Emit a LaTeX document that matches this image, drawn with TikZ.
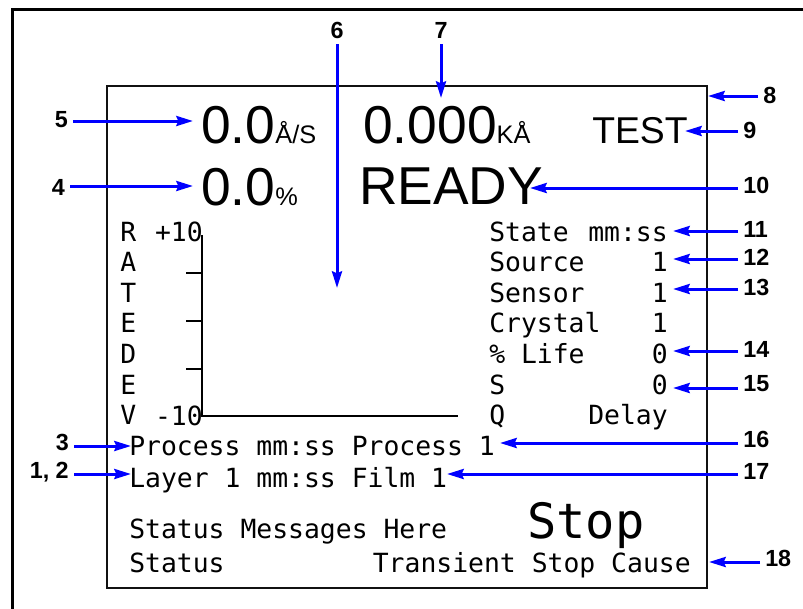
\documentclass[tikz,border=0pt]{standalone}
\usepackage{fontspec}
\setmainfont{Liberation Sans}
\setmonofont{DejaVu Sans Mono}
\usetikzlibrary{arrows.meta}
\definecolor{calloutblue}{RGB}{0,0,255}
\definecolor{screenstroke}{HTML}{111111}
\tikzset{
  callout/.style={
    -{Stealth[length=12.5pt,width=7.5pt,inset=1.5pt]}, draw=calloutblue,
    line width=2.25pt
  },
  calloutnum/.style={
    inner sep=3.75pt, font=\bfseries\fontsize{17.5}{19}\selectfont
  },
  readout/.style={
    inner sep=0pt, anchor=base west, font=\fontsize{40}{42}\selectfont
  },
  lcd/.style={
    inner sep=0pt, anchor=base west, font=\ttfamily\fontsize{19.8}{22}\selectfont
  },
  lcdright/.style={lcd, anchor=base east},
  axisline/.style={draw=black, line width=1pt}
}

\begin{document}
\begin{tikzpicture}[x=0.75pt,y=-0.75pt]
  \useasboundingbox (0,0) rectangle (803,608);
  \draw[line width=2.25pt] (12,610) -- (12,9.5) -- (805,9.5);
  \draw[screenstroke,line width=1.5pt] (107,86) rectangle (707,588);

  % Top readouts.
  \node[readout] (rate) at (201,143) {0.0{\fontsize{19}{20}\selectfont Å/S}};
  \node[readout] (thick) at (363,143) {0.000{\fontsize{19}{20}\selectfont KÅ}};
  \node[readout,font=\fontsize{28}{30}\selectfont] (test) at (592,143) {TEST};
  \node[readout] (power) at (201,205) {0.0{\fontsize{19}{20}\selectfont \%}};
  \node[readout] (ready) at (359,204) {READY};

  % Rate deviation graph.
  \draw[axisline] (202,235) -- (202,416) -- (458,416);
  \foreach \ty in {273,321,369}
    \draw[axisline] (186,\ty) -- (202,\ty);
  \foreach \ch [count=\i] in {R,A,T,E,D,E,V}
    \node[lcd] (dev\i) at (120,{241+30.6*(\i-1)}) {\ch};
  \node[lcdright] (devtop) at (203,241) {+10};
  \node[lcdright] (devbot) at (203,425) {-10};

  % Source and sensor column.
  \foreach \lt/\rt [count=\i] in {State/mm:ss,Source/1,Sensor/1,Crystal/1,
      {\% Life}/0,S/0,Q/Delay} {
    \node[lcd] (par\i) at (489,{241+30.6*(\i-1)}) {\lt};
    \node[lcdright] (val\i) at (668,{241+30.6*(\i-1)}) {\rt};
  }

  % Process lines and status area.
  \node[lcd] (proc) at (129,455) {Process mm:ss Process 1};
  \node[lcd] (layer) at (129,487) {Layer 1 mm:ss Film 1};
  \node[lcd] (msg) at (129,538) {Status Messages Here};
  \node[lcd,font=\ttfamily\fontsize{36.5}{38}\selectfont] (stop) at (527,538) {Stop};
  \node[lcd] (stat) at (129,572) {Status};
  \node[lcdright] (cause) at (691,572) {Transient Stop Cause};

  % Callout numbers.
  \node[calloutnum,anchor=east] (n5) at (73,120) {5};
  \node[calloutnum,anchor=east] (n4) at (70,187) {4};
  \node[calloutnum,anchor=east] (n3) at (74,442) {3};
  \node[calloutnum,anchor=east] (n12a) at (74,472) {1, 2};
  \node[calloutnum,anchor=south] (n6) at (337,44) {6};
  \node[calloutnum,anchor=south] (n7) at (441,44) {7};
  \node[calloutnum,anchor=west] (n8) at (758,95) {8};
  \node[calloutnum,anchor=west] (n9) at (738,130) {9};
  \node[calloutnum,anchor=west] (n10) at (738,185) {10};
  \node[calloutnum,anchor=west] (n11) at (738,229) {11};
  \node[calloutnum,anchor=west] (n12) at (738,257) {12};
  \node[calloutnum,anchor=west] (n13) at (738,287) {13};
  \node[calloutnum,anchor=west] (n14) at (738,349) {14};
  \node[calloutnum,anchor=west] (n15) at (738,384) {15};
  \node[calloutnum,anchor=west] (n16) at (738,439) {16};
  \node[calloutnum,anchor=west] (n17) at (738,471) {17};
  \node[calloutnum,anchor=west] (n18) at (760,558) {18};

  % Where each callout points.
  \coordinate (t5) at (193,121);
  \coordinate (t4) at (193,186);
  \coordinate (t3) at (131,446);
  \coordinate (t12a) at (131,474);
  \coordinate (t6) at (337,288);
  \coordinate (t7) at (441,98);
  \coordinate (t8) at (708,96);
  \coordinate (t9) at (685,131);
  \coordinate (t10) at (530,188);
  \coordinate (t11) at (673,231);
  \coordinate (t12) at (673,259);
  \coordinate (t13) at (673,289);
  \coordinate (t14) at (673,351);
  \coordinate (t15) at (673,388);
  \coordinate (t16) at (500,443);
  \coordinate (t17) at (447,474);
  \coordinate (t18) at (709,562);

  \foreach \k in {5,4,3,12a}
    \draw[callout] (n\k.east |- t\k) -- (t\k);
  \foreach \k in {6,7}
    \draw[callout] (n\k.south) -- (t\k);
  \foreach \k in {8,9,10,11,12,13,14,15,16,17,18}
    \draw[callout] (n\k.west |- t\k) -- (t\k);
\end{tikzpicture}
\end{document}
